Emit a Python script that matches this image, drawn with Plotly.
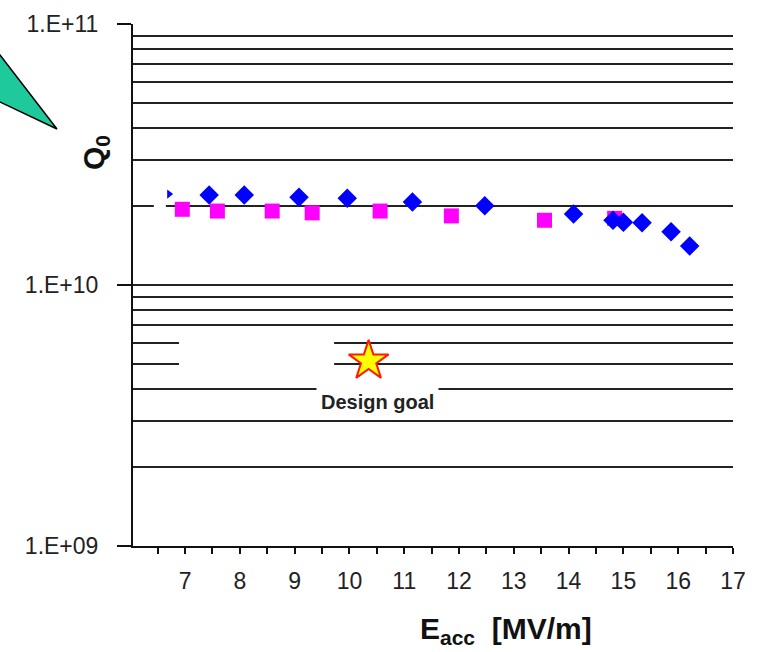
import plotly.graph_objects as go
import math

# ---- data ----
blue_x = [7.44, 8.08, 9.08, 9.96, 11.15, 12.47, 14.09, 14.81, 15.00, 15.34, 15.87, 16.21]
blue_y = [2.21e10, 2.21e10, 2.17e10, 2.15e10, 2.08e10, 2.01e10, 1.87e10, 1.77e10,
          1.74e10, 1.73e10, 1.60e10, 1.41e10]

pink_x = [6.95, 7.59, 8.59, 9.32, 10.56, 11.86, 13.56, 14.84]
pink_y = [1.95e10, 1.92e10, 1.92e10, 1.89e10, 1.92e10, 1.84e10, 1.77e10, 1.80e10]

tri_x = [6.71]
tri_y = [2.23e10]

goal_x = [10.35]
goal_y = [5.12e9]

x_tickvals = [6.5 + 0.5 * i for i in range(22)]
x_ticktext = [str(int(v)) if float(v).is_integer() else "" for v in x_tickvals]

y_major = [1e9, 1e10, 1e11]
y_major_text = ["1.E+09", "1.E+10", "1.E+11"]
y_minor = [m * 10 ** d for d in (9, 10) for m in range(2, 10)]

FONT = "Liberation Sans, Arial, sans-serif"
GRID = "#222222"

fig = go.Figure()

fig.add_trace(go.Scatter(
    x=pink_x, y=pink_y, mode="markers",
    marker=dict(symbol="square", size=15, color="#ff00ff", line=dict(width=0)),
    showlegend=False))
fig.add_trace(go.Scatter(
    x=blue_x, y=blue_y, mode="markers",
    marker=dict(symbol="diamond", size=15, color="#0000ff", line=dict(width=0)),
    showlegend=False))
fig.add_trace(go.Scatter(
    x=tri_x, y=tri_y, mode="markers",
    marker=dict(symbol="triangle-right", size=8, color="#0000ff", line=dict(width=0)),
    showlegend=False))
fig.add_trace(go.Scatter(
    x=goal_x, y=goal_y, mode="markers",
    marker=dict(symbol="star", size=30, color="#ffff00", line=dict(color="#ff1a00", width=2)),
    showlegend=False))

# white masks that interrupt some grid lines
fig.add_shape(type="rect", xref="x", yref="y", x0=6.89, x1=9.72, y0=4.72e9, y1=6.43e9,
              fillcolor="white", line=dict(width=0), layer="between")
fig.add_shape(type="rect", xref="x", yref="y", x0=6.43, x1=6.65, y0=1.95e10, y1=2.05e10,
              fillcolor="white", line=dict(width=0), layer="between")

# teal callout pointer
fig.add_shape(type="path", xref="paper", yref="paper",
              path="M -0.2383 0.9655 L -0.1267 0.7989 L -0.2383 0.8596 Z",
              fillcolor="#1ec99b", line=dict(color="black", width=1.5), layer="above")

fig.add_annotation(x=10.51, y=math.log10(3.55e9), xref="x", yref="y",
                   text="<b>Design goal</b>", showarrow=False,
                   font=dict(family=FONT, size=20, color="#222"),
                   bgcolor="white", borderpad=4)

fig.add_annotation(x=(95 - 133) / 600, y=(546 - 153) / 522, xref="paper", yref="paper",
                   xanchor="center", yanchor="middle",
                   text="<b>Q<sub>0</sub></b>", showarrow=False, textangle=-90,
                   font=dict(family=FONT, size=30, color="#111"))

fig.add_annotation(x=(506 - 133) / 600, y=(546 - 630) / 522, xref="paper", yref="paper",
                   xanchor="center", yanchor="middle",
                   text="<b>E<sub>acc</sub>  [MV/m]</b>", showarrow=False,
                   font=dict(family=FONT, size=30, color="#111"))

fig.update_xaxes(
    range=[6.05, 17], tickmode="array", tickvals=x_tickvals, ticktext=x_ticktext,
    ticks="outside", ticklen=6, tickwidth=2, tickcolor="#111",
    showline=True, linewidth=2, linecolor="#111", showgrid=False, zeroline=False,
    tickfont=dict(family=FONT, size=23, color="#222"), ticklabelstandoff=7)

fig.update_yaxes(
    type="log", range=[9, 11], tickmode="array", tickvals=y_major, ticktext=y_major_text,
    ticks="outside", ticklen=14, tickwidth=2, tickcolor="#111",
    showline=True, linewidth=2, linecolor="#111",
    showgrid=True, gridcolor=GRID, gridwidth=2, zeroline=False,
    minor=dict(tickvals=y_minor, showgrid=True, gridcolor=GRID, gridwidth=2, ticks=""),
    tickfont=dict(family=FONT, size=23, color="#222"), ticklabelstandoff=14)

fig.update_layout(
    width=765, height=652,
    margin=dict(l=133, r=32, t=24, b=106),
    paper_bgcolor="white", plot_bgcolor="white",
    showlegend=False)

fig.write_html("out.html", config={"displayModeBar": False},
               post_script="document.body.style.margin='0';")
